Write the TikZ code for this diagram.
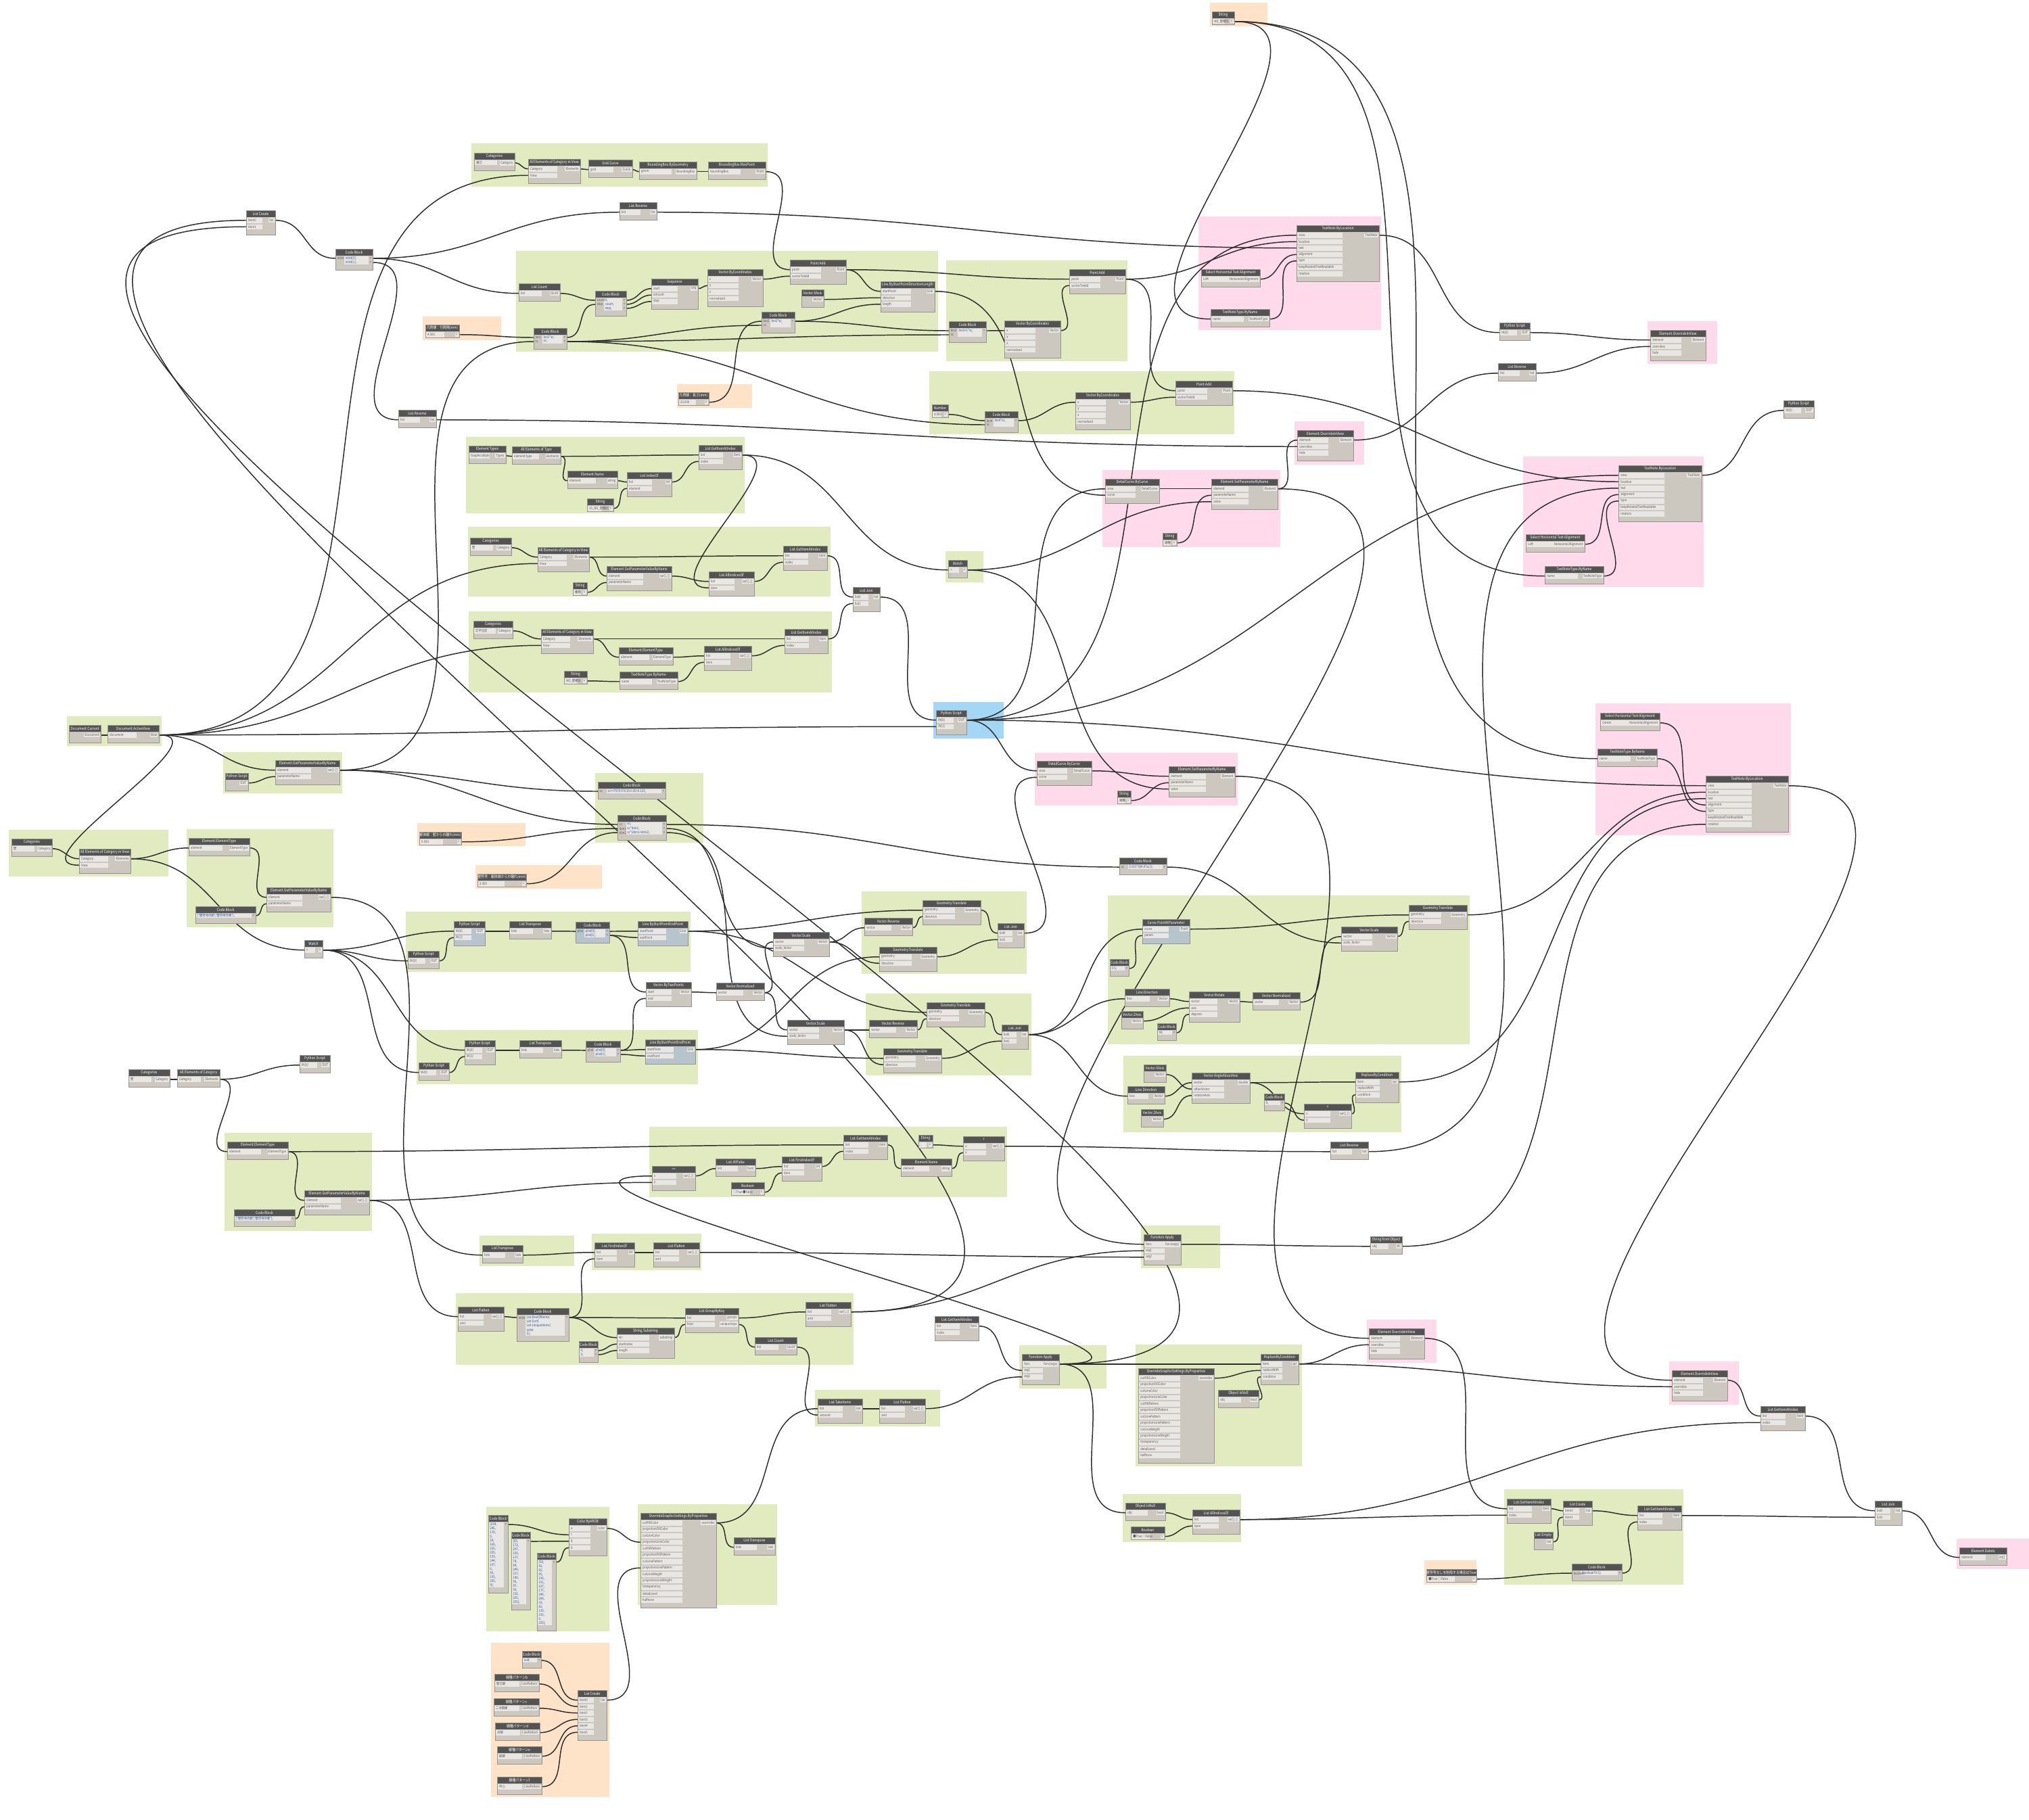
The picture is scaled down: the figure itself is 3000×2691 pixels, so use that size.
\documentclass[tikz,border=0pt]{standalone}
\usepackage{fontspec}
\setmainfont{Noto Sans CJK JP}[FakeStretch=0.84]
\usetikzlibrary{calc}

\definecolor{grpgreen}{RGB}{226,234,192}
\definecolor{grppink}{RGB}{255,218,235}
\definecolor{grppeach}{RGB}{255,227,201}
\definecolor{grpblue}{RGB}{164,214,245}
\definecolor{hdcol}{RGB}{83,83,83}
\definecolor{bodycol}{RGB}{204,200,191}
\definecolor{bodyblue}{RGB}{184,196,204}
\definecolor{rowcol}{RGB}{233,231,227}
\definecolor{edgecol}{RGB}{150,148,143}
\definecolor{txtgray}{RGB}{85,85,85}
\definecolor{codecol}{RGB}{40,80,160}
\definecolor{wirecol}{RGB}{45,45,45}

\pgfdeclarelayer{grp}
\pgfdeclarelayer{wir}
\pgfsetlayers{grp,wir,main}

\tikzset{
  ttl/.style={text=white, font=\fontsize{1.65}{1.9}\selectfont, inner sep=0pt},
  plbl/.style={text=txtgray, font=\fontsize{1.45}{1.7}\selectfont, inner sep=0.35pt},
  code/.style={text=codecol, font=\fontsize{1.45}{1.7}\selectfont, inner sep=0.2pt},
  nedge/.style={draw=edgecol, line width=0.15pt},
  conn/.style={draw=wirecol, line width=0.42pt},
  gG/.style={fill=grpgreen}, gP/.style={fill=grppink},
  gO/.style={fill=grppeach}, gB/.style={fill=grpblue}
}

% [body style]{name}{x}{y}{width}{rows}{title}{inputs}{outputs}
\newcommand{\dnode}[9][]{%
  \fill[bodycol,#1] (#3,#4) rectangle ++(#5,{#6*9.5+17});
  \fill[hdcol] (#3,#4) rectangle ++(#5,10);
  \draw[nedge] (#3,#4) rectangle ++(#5,{#6*9.5+17});
  \node[ttl] (#2) at ({#3+#5/2},{#4+5}) {#7};
  \def\dnin{#8}%
  \ifx\dnin\empty\else
  \foreach \p [count=\i] in {#8}{%
    \fill[rowcol] ({#3+0.8},{#4+10+(\i-1)*9.5+1}) rectangle ++({#5*0.55},7.5);
    \coordinate (#2-i\i) at (#3,{#4+10+(\i-0.5)*9.5});
    \node[plbl,anchor=west] at ({#3+1.3},{#4+10+(\i-0.5)*9.5}) {\p};}%
  \fi
  \foreach \p [count=\i] in {#9}{%
    \node[plbl,fill=rowcol,anchor=east] at ({#3+#5-0.8},{#4+10+(\i-0.5)*9.5}) {\p};
    \coordinate (#2-o\i) at ({#3+#5},{#4+10+(\i-0.5)*9.5});}%
}
% [body style]{name}{x}{y}{width}{lines}{inputs}{code}{outputs}
\newcommand{\cbnode}[9][]{%
  \def\cbin{#7}%
  \ifx\cbin\empty\def\cbx{1}\else\def\cbx{13}\fi
  \fill[bodycol,#1] (#3,#4) rectangle ++(#5,{#6*6+19});
  \fill[rowcol] ({#3+\cbx},{#4+11}) rectangle ({#3+#5-6},{#4+11+#6*6});
  \fill[hdcol] (#3,#4) rectangle ++(#5,10);
  \draw[nedge] (#3,#4) rectangle ++(#5,{#6*6+19});
  \node[ttl] (#2) at ({#3+#5/2},{#4+5}) {Code Block};
  \ifx\cbin\empty\else
  \foreach \p [count=\i] in {#7}{%
    \coordinate (#2-i\i) at (#3,{#4+11+(\i-0.5)*6});
    \node[plbl,anchor=west] at ({#3+0.8},{#4+11+(\i-0.5)*6}) {\p};}%
  \fi
  \foreach \codeln [count=\i] in {#8}{%
    \node[code,anchor=west] at ({#3+\cbx+0.3},{#4+11+(\i-0.5)*6}) {\codeln};}%
  \foreach \i in {1,...,#9}{%
    \node[plbl] at ({#3+#5-3},{#4+11+(\i-0.5)*6}) {>};
    \coordinate (#2-o\i) at ({#3+#5},{#4+11+(\i-0.5)*6});}%
}
\newcommand{\dwire}[2]{\draw[conn] let \p1=(#1), \p2=(#2),
  \n1={0.45*veclen((\x2-\x1)/10,(\y2-\y1)/10)*10} in
  (\p1) .. controls +({\n1*1pt},0pt) and +({-\n1*1pt},0pt) .. (\p2);}
\newcommand{\dgroup}[5]{\begin{pgfonlayer}{grp}\fill[#1] (#2,#3) rectangle (#4,#5);\end{pgfonlayer}}

\begin{document}
\begin{tikzpicture}[x=0.01cm, y=-0.01cm]
\useasboundingbox (0,0) rectangle (3000,2691);
\begin{pgfonlayer}{grp}\fill[white] (0,0) rectangle (3000,2691);\end{pgfonlayer}

\dgroup{gG}{697}{212}{1135}{276}
\dgroup{gG}{763}{371}{1387}{520}
\dgroup{gG}{689}{646}{1101}{759}
\dgroup{gG}{692}{779}{1228}{882}
\dgroup{gG}{693}{904}{1230}{1024}
\dgroup{gG}{1399}{385}{1667}{534}
\dgroup{gG}{1374}{549}{1825}{642}
\dgroup{gG}{1398}{815}{1454}{861}
\dgroup{gG}{99}{1059}{239}{1103}
\dgroup{gG}{330}{1112}{506}{1173}
\dgroup{gG}{13}{1227}{249}{1296}
\dgroup{gG}{276}{1226}{493}{1371}
\dgroup{gG}{880}{1143}{1040}{1246}
\dgroup{gG}{600}{1348}{1021}{1437}
\dgroup{gG}{616}{1523}{1032}{1603}
\dgroup{gG}{1274}{1318}{1518}{1440}
\dgroup{gG}{1280}{1469}{1525}{1590}
\dgroup{gG}{1638}{1324}{2173}{1544}
\dgroup{gG}{1661}{1561}{2072}{1674}
\dgroup{gG}{332}{1675}{550}{1820}
\dgroup{gG}{960}{1666}{1489}{1770}
\dgroup{gG}{709}{1827}{849}{1872}
\dgroup{gG}{875}{1824}{1037}{1878}
\dgroup{gG}{1687}{1812}{1804}{1875}
\dgroup{gG}{674}{1912}{1262}{2018}
\dgroup{gG}{1205}{2055}{1390}{2109}
\dgroup{gG}{1507}{1989}{1636}{2053}
\dgroup{gG}{1679}{1988}{1925}{2168}
\dgroup{gG}{1660}{2209}{1835}{2280}
\dgroup{gG}{2224}{2202}{2489}{2343}
\dgroup{gG}{719}{2228}{901}{2412}
\dgroup{gG}{943}{2224}{1149}{2373}
\dgroup{gP}{1772}{320}{2042}{488}
\dgroup{gP}{1914}{623}{2017}{687}
\dgroup{gP}{1630}{695}{1893}{809}
\dgroup{gP}{2436}{475}{2539}{538}
\dgroup{gP}{2252}{675}{2519}{868}
\dgroup{gP}{2359}{1040}{2648}{1235}
\dgroup{gP}{1530}{1113}{1830}{1191}
\dgroup{gP}{2021}{1951}{2124}{2015}
\dgroup{gP}{2468}{2013}{2571}{2077}
\dgroup{gP}{2893}{2275}{3000}{2320}
\dgroup{gO}{1789}{4}{1874}{39}
\dgroup{gO}{625}{468}{741}{503}
\dgroup{gO}{1001}{568}{1112}{603}
\dgroup{gO}{617}{1217}{777}{1251}
\dgroup{gO}{703}{1279}{890}{1314}
\dgroup{gO}{2106}{2307}{2183}{2343}
\dgroup{gO}{726}{2429}{901}{2657}
\dgroup{gB}{1380}{1038}{1484}{1092}

\dnode{lc1}{364}{311}{43}{2}{List Create}{item0,item1}{list}
\cbnode{cb1}{496}{368}{55}{2}{inlist}{{inlist[0];},{inlist[1];}}{2}
\dnode{lr1}{589}{606}{56}{1}{List.Reverse}{list}{list}
\dnode{num1}{629}{480}{50}{0.25}{凡例線：行間隔(mm)}{4.500}{>}
\dnode{cat1}{701}{226}{60}{1}{Categories}{通芯}{Category}
\dnode{ae1}{781}{235}{77}{2}{All Elements of Category in View}{Category,View}{Elements}
\dnode{gc}{870}{236}{65}{1}{Grid.Curve}{grid}{Curve}
\dnode{bbg}{945}{239}{85}{1}{BoundingBox.ByGeometry}{geom}{BoundingBox}
\dnode{bbm}{1047}{239}{85}{1}{BoundingBox.MaxPoint}{boundingBox}{Point}
\dnode{lr2}{916}{299}{55}{1}{List.Reverse}{list}{list}
\dnode{lcount1}{767}{419}{61}{1}{List.Count}{list}{count}
\cbnode{cb2}{880}{430}{46}{3}{count,step}{{0;},{count;},{step;}}{3}
\dnode{seq}{963}{412}{69}{3}{Sequence}{start,amount,step}{seq}
\dnode{vbc1}{1046}{398}{82}{4}{Vector.ByCoordinates}{x,y,z,normalized}{Vector}
\dnode{pa1}{1168}{384}{83}{2}{Point.Add}{point,vectorToAdd}{Point}
\dnode{vx1}{1185}{428}{33}{1}{Vector.XAxis}{}{Vector}
\dnode{lsdl}{1302}{416}{80}{3}{Line.ByStartPointDirectionLength}{startPoint,direction,length}{Line}
\cbnode{cb3}{1126}{461}{49}{2}{len2,sc}{{len2*sc;}}{1}
\cbnode{cb4}{789}{485}{49}{2}{len1,sc}{{len1*sc;},{sc;}}{2}
\dnode{num2}{1003}{580}{45}{0.25}{凡例線：長さ(mm)}{20.000}{>}
\dnode{et1}{693}{659}{55}{1}{Element Types}{GraphicsStyle}{Types}
\dnode{aet}{757}{660}{72}{1}{All Elements of Type}{element type}{elements}
\dnode{en1}{839}{696}{74}{1}{Element.Name}{element}{string}
\dnode{lio}{927}{698}{66}{2}{List.IndexOf}{list,element}{int}
\dnode{str1}{868}{737}{39}{0.25}{String}{10\_NO\_壁種別}{>}
\dnode{gia1}{1033}{658}{64}{2}{List.GetItemAtIndex}{list,index}{item}
\dnode{cat2}{695}{795}{61}{1}{Categories}{壁}{Category}
\dnode{ae2}{795}{809}{76}{2}{All Elements of Category in View}{Category,View}{Elements}
\dnode{gpv1}{897}{837}{96}{2}{Element.GetParameterValueByName}{element,parameterName}{var[]..[]}
\dnode{str2}{847}{861}{21}{0.25}{String}{種類}{>}
\dnode{laio1}{1048}{845}{67}{2}{List.AllIndicesOf}{list,item}{var[]..[]}
\dnode{gia2}{1158}{807}{65}{2}{List.GetItemAtIndex}{list,index}{item}
\dnode{lj0}{1261}{868}{40}{2}{List.Join}{list0,list1}{list}
\dnode{cat5}{700}{918}{58}{1}{Categories}{文字注記}{Category}
\dnode{ae4}{800}{930}{77}{2}{All Elements of Category in View}{Category,View}{Elements}
\dnode{ee2}{915}{957}{80}{1}{Element.ElementType}{element}{ElementType}
\dnode{laio3}{1041}{955}{70}{2}{List.AllIndicesOf}{list,item}{var[]..[]}
\dnode{gia8}{1160}{930}{64}{2}{List.GetItemAtIndex}{list,index}{item}
\dnode{str6}{834}{992}{34}{0.25}{String}{NO\_壁種別}{>}
\dnode{tnt4}{916}{993}{86}{1}{TextNoteType.ByName}{name}{TextNoteType}

\dnode{str0}{1792}{17}{33}{0.25}{String}{NO\_壁種別}{>}
\dnode{pa2}{1581}{398}{83}{2}{Point.Add}{point,vectorToAdd}{Point}
\cbnode{cb5}{1403}{475}{55}{2}{len3,sc}{{len3+1*sc;}}{1}
\dnode{vbc2}{1485}{474}{83}{4}{Vector.ByCoordinates}{x,y,z,normalized}{Vector}
\dnode{num3}{1378}{598}{24}{0.25}{Number}{8.500}{>}
\cbnode{cb6}{1456}{608}{49}{2}{len4,sc}{{len4*sc;}}{1}
\dnode{vbc3}{1590}{580}{81}{4}{Vector.ByCoordinates}{x,y,z,normalized}{Vector}
\dnode{pa3}{1738}{563}{84}{2}{Point.Add}{point,vectorToAdd}{Point}
\dnode{tn1}{1917}{333}{122}{7}{TextNote.ByLocation}{view,location,text,alignment,type,keepRotatedTextReadable,rotation}{TextNote}
\dnode{sha1}{1776}{398}{87}{1}{Select Horizontal Text Alignment}{Left}{Horizontal Alignment}
\dnode{tnt1}{1790}{457}{87}{1}{TextNoteType.ByName}{name}{TextNoteType}
\dnode{eov1}{1918}{636}{83}{3}{Element.OverrideInView}{element,overrides,hide}{Element}
\dnode{dcc}{1634}{708}{80}{2}{DetailCurve.ByCurve}{view,curve}{DetailCurve}
\dnode{espn1}{1791}{708}{98}{3}{Element.SetParameterByName}{element,parameterName,value}{Element}
\dnode{str3}{1719}{788}{21}{0.25}{String}{線種}{>}
\dnode{w1}{1402}{828}{28}{1}{Watch}{>}{>}
\dnode{ps1}{2217}{477}{45}{1}{Python Script}{IN[0]}{OUT}
\dnode{lr3}{2215}{537}{56}{1}{List.Reverse}{list}{list}
\dnode{eov2}{2440}{488}{82}{3}{Element.OverrideInView}{element,overrides,hide}{Element}
\dnode{ps2}{2637}{592}{45}{1}{Python Script}{IN[0]}{OUT}
\dnode{tn2}{2393}{688}{123}{7}{TextNote.ByLocation}{view,location,text,alignment,type,keepRotatedTextReadable,rotation}{TextNote}
\dnode{sha2}{2256}{790}{87}{1}{Select Horizontal Text Alignment}{Left}{Horizontal Alignment}
\dnode{tnt2}{2284}{837}{87}{1}{TextNoteType.ByName}{name}{TextNoteType}
\dnode{sha3}{2366}{1054}{88}{1}{Select Horizontal Text Alignment}{Center}{Horizontal Alignment}
\dnode{tnt3}{2362}{1107}{88}{1}{TextNoteType.ByName}{name}{TextNoteType}
\dnode{tn3}{2522}{1147}{122}{7}{TextNote.ByLocation}{view,location,text,alignment,type,keepRotatedTextReadable,rotation}{TextNote}
\dnode{ps9}{1384}{1050}{45}{2}{Python Script}{IN[0],IN[1]}{OUT}
\dnode{dcc2}{1533}{1125}{81}{2}{DetailCurve.ByCurve}{view,curve}{DetailCurve}
\dnode{espn2}{1728}{1133}{98}{3}{Element.SetParameterByName}{element,parameterName,value}{Element}
\dnode{str5}{1652}{1169}{20}{0.25}{String}{線種}{>}
\cbnode{cb15}{1655}{1268}{70}{1}{sc}{{0.015*304.8*sc/2;}}{1}
\dnode[fill=bodyblue]{cpap}{1689}{1359}{70}{2}{Curve.PointAtParameter}{curve,param}{Point}
\cbnode{cb16}{1641}{1418}{28}{1}{}{{0.5;}}{1}
\dnode{ld}{1663}{1462}{66}{1}{Line.Direction}{line}{Vector}
\dnode{vz}{1658}{1495}{32}{1}{Vector.ZAxis}{}{Vector}
\cbnode{cb17}{1711}{1513}{28}{1}{}{{90;}}{1}
\dnode{vrot}{1758}{1466}{75}{3}{Vector.Rotate}{vector,axis,degrees}{Vector}
\dnode{vn2}{1852}{1467}{70}{1}{Vector.Normalized}{vector}{Vector}
\dnode{vs3}{1983}{1370}{83}{2}{Vector.Scale}{vector,scale\_factor}{Vector}
\dnode{gt5}{2083}{1338}{86}{2}{Geometry.Translate}{geometry,direction}{Geometry}
\dnode{vx2}{1691}{1574}{33}{1}{Vector.XAxis}{}{Vector}
\dnode{ld2}{1667}{1606}{55}{1}{Line.Direction}{line}{Vector}
\dnode{vz2}{1687}{1640}{33}{1}{Vector.ZAxis}{}{Vector}
\dnode{vaaa}{1762}{1586}{86}{3}{Vector.AngleAboutAxis}{vector,otherVector,rotationAxis}{double}
\cbnode{cb20}{1869}{1617}{30}{1}{}{{0;}}{1}
\dnode{cmp}{1928}{1632}{70}{2}{<}{x,y}{var[]..[]}
\dnode{rbc2}{2004}{1585}{64}{3}{ReplaceByCondition}{item,replaceWith,condition}{var}

\dnode{dc}{102}{1072}{47}{1}{Document.Current}{}{Document}
\dnode{dav}{159}{1072}{76}{1}{Document.ActiveView}{document}{View}
\dnode{ps3}{333}{1143}{34}{1}{Python Script}{}{OUT}
\dnode{gpv2}{407}{1124}{95}{2}{Element.GetParameterValueByName}{element,parameterName}{var[]..[]}
\dnode{cat3}{17}{1240}{60}{1}{Categories}{壁}{Category}
\dnode{ae3}{117}{1255}{76}{2}{All Elements of Category in View}{Category,View}{Elements}
\dnode{ee1}{279}{1239}{90}{1}{Element.ElementType}{element}{ElementType}
\dnode{gpv3}{394}{1312}{95}{2}{Element.GetParameterValueByName}{element,parameterName}{var[]..[]}
\cbnode{cb7}{289}{1340}{89}{1}{}{{["壁符号内側","壁符号外側"];}}{1}
\dnode{w2}{450}{1390}{27}{1}{Watch}{>}{>}
\dnode{num4}{620}{1230}{62}{0.25}{躯体線：壁からの離れ(mm)}{0.500}{>}
\dnode{num5}{706}{1292}{72}{0.25}{壁符号：躯体線からの離れ(mm)}{3.000}{>}
\cbnode{cb10}{884}{1156}{100}{1}{sc}{{sc<=7570.5?0.25:0.25+0.125;}}{1}
\cbnode{cb11}{913}{1205}{72}{3}{sc,dim1,dim2}{{sc;},{sc*dim1;},{sc*(dim1+dim2);}}{3}
\dnode[fill=bodyblue]{ps4}{671}{1362}{46}{2}{Python Script}{IN[0],IN[1]}{OUT}
\dnode{ps5}{603}{1406}{46}{1}{Python Script}{IN[0]}{OUT}
\dnode{lt1}{753}{1362}{62}{1}{List.Transpose}{lists}{lists}
\cbnode[fill=bodyblue]{cb8}{851}{1363}{50}{2}{plist}{{plist[0];},{plist[1];}}{2}
\dnode[fill=bodyblue]{lsep1}{943}{1362}{74}{2}{Line.ByStartPointEndPoint}{startPoint,endPoint}{Line}
\dnode{ps6}{687}{1538}{45}{2}{Python Script}{IN[0],IN[1]}{OUT}
\dnode{ps7}{619}{1571}{45}{1}{Python Script}{IN[0]}{OUT}
\dnode{lt2}{768}{1538}{62}{1}{List.Transpose}{lists}{lists}
\cbnode{cb9}{866}{1539}{51}{2}{plist}{{plist[0];},{plist[1];}}{2}
\dnode[fill=bodyblue]{lsep2}{954}{1537}{74}{2}{Line.ByStartPointEndPoint}{startPoint,endPoint}{Line}
\dnode{vbtp}{955}{1452}{67}{2}{Vector.ByTwoPoints}{start,end}{Vector}
\dnode{vn1}{1059}{1453}{71}{1}{Vector.Normalized}{vector}{Vector}
\dnode{vs1}{1143}{1378}{83}{2}{Vector.Scale}{vector,scale\_factor}{Vector}
\dnode{vs2}{1164}{1508}{84}{2}{Vector.Scale}{vector,scale\_factor}{Vector}
\dnode{gt1}{1364}{1331}{86}{2}{Geometry.Translate}{geometry,direction}{Geometry}
\dnode{vr1}{1278}{1357}{71}{1}{Vector.Reverse}{vector}{Vector}
\dnode{gt2}{1300}{1400}{85}{2}{Geometry.Translate}{geometry,direction}{Geometry}
\dnode{lj1}{1475}{1365}{39}{2}{List.Join}{list0,list1}{list}
\dnode{gt3}{1370}{1482}{86}{2}{Geometry.Translate}{geometry,direction}{Geometry}
\dnode{vr2}{1285}{1508}{71}{1}{Vector.Reverse}{vector}{Vector}
\dnode{gt4}{1306}{1550}{86}{2}{Geometry.Translate}{geometry,direction}{Geometry}
\dnode{lj2}{1481}{1515}{39}{2}{List.Join}{list0,list1}{list}
\dnode{cat4}{190}{1581}{61}{1}{Categories}{壁}{Category}
\dnode{aec}{262}{1581}{63}{1}{All Elements of Category}{Category}{Elements}
\dnode{ps8}{443}{1560}{45}{1}{Python Script}{IN[0]}{OUT}
\dnode{ee3}{336}{1688}{90}{1}{Element.ElementType}{element}{ElementType}
\dnode{gpv4}{450}{1760}{96}{2}{Element.GetParameterValueByName}{element,parameterName}{var[]..[]}
\cbnode{cb18}{346}{1788}{90}{1}{}{{["壁符号内側","壁符号外側"];}}{1}
\dnode{eqn}{964}{1724}{64}{2}{==}{x,y}{var[]..[]}
\dnode{laf}{1058}{1713}{59}{1}{List.AllFalse}{list}{bool}
\dnode{lfio1}{1156}{1710}{59}{2}{List.FirstIndexOf}{list,item}{int}
\dnode{bool1}{1081}{1748}{49}{0.25}{Boolean}{○True ●False}{>}
\dnode{gia3}{1247}{1678}{65}{2}{List.GetItemAtIndex}{list,index}{item}
\dnode{str4}{1358}{1678}{21}{0.25}{String}{:}{>}
\dnode{en2}{1332}{1713}{75}{1}{Element.Name}{element}{string}
\dnode{plus}{1424}{1680}{61}{2}{+}{x,y}{var[]..[]}
\dnode{lr4}{1967}{1688}{56}{1}{List.Reverse}{list}{list}
\dnode{fa1}{1691}{1825}{55}{3}{Function.Apply}{func,arg1,arg2}{func(args)}
\dnode{sfo}{2026}{1828}{47}{1}{String from Object}{obj}{str}
\dnode{lt3}{713}{1841}{60}{1}{List.Transpose}{lists}{lists}
\dnode{lfio2}{879}{1837}{59}{2}{List.FirstIndexOf}{list,item}{int}
\dnode{lf3}{966}{1837}{68}{2}{List.Flatten}{list,amt}{var[]..[]}
\dnode{lf1}{677}{1932}{68}{2}{List.Flatten}{list,amt}{var[]..[]}
\cbnode{cb12}{764}{1934}{77}{5}{inlist}{{List.RestOfItems(},{List.Sort(},{List.UniqueItems(},{inlist},{)));}}{1}
\cbnode{cb13}{856}{1983}{28}{2}{}{{0;},{3;}}{2}
\dnode{ss}{912}{1963}{85}{3}{String.Substring}{str,startIndex,length}{substring}
\dnode{lgbk}{1013}{1934}{79}{2}{List.GroupByKey}{list,keys}{groups,unique keys}
\dnode{lf2}{1191}{1925}{67}{2}{List.Flatten}{list,amt}{var[]..[]}
\dnode{lcount2}{1116}{1977}{62}{1}{List.Count}{list}{count}
\dnode{gia4}{1382}{1946}{65}{2}{List.GetItemAtIndex}{list,index}{item}
\dnode{lti}{1209}{2068}{66}{2}{List.TakeItems}{list,amount}{list}
\dnode{lf4}{1300}{2068}{68}{2}{List.Flatten}{list,amt}{var[]..[]}
\dnode{fa2}{1511}{2002}{55}{3}{Function.Apply}{func,arg1,arg2}{func(args)}
\dnode{ogs1}{1683}{2023}{112}{13}{OverrideGraphicSettings.ByProperties}{cutFillColor,projectionFillColor,cutLineColor,projectionLineColor,cutFillPattern,projectionFillPattern,cutLinePattern,projectionLinePattern,cutLineWeight,projectionLineWeight,transparency,detailLevel,halftone}{overrides}
\dnode{rbc}{1864}{2002}{56}{3}{ReplaceByCondition}{item,replaceWith,condition}{var}
\dnode{oin1}{1801}{2055}{60}{1}{Object.IsNull}{obj}{bool}
\dnode{eov3}{2024}{1964}{82}{3}{Element.OverrideInView}{element,overrides,hide}{Element}
\dnode{eov4}{2472}{2026}{82}{3}{Element.OverrideInView}{element,overrides,hide}{Element}
\dnode{gia5}{2603}{2079}{66}{2}{List.GetItemAtIndex}{list,index}{item}
\dnode{oin2}{1664}{2222}{59}{1}{Object.IsNull}{obj}{bool}
\dnode{bool2}{1672}{2257}{50}{0.25}{Boolean}{●True ○False}{>}
\dnode{laio2}{1763}{2232}{70}{2}{List.AllIndicesOf}{list,item}{var[]..[]}
\dnode{gia6}{2228}{2216}{65}{2}{List.GetItemAtIndex}{list,index}{item}
\dnode{lc2}{2311}{2219}{43}{2}{List Create}{item0,item1}{list}
\dnode{lem}{2268}{2265}{28}{1}{List.Empty}{}{list}
\dnode{gia7}{2421}{2226}{65}{2}{List.GetItemAtIndex}{list,index}{item}
\cbnode{cb14}{2324}{2312}{74}{1}{boolean}{{(boolean?0:1);}}{1}
\dnode{bool3}{2109}{2320}{74}{0.25}{壁符号なしを削除する場合はTrue}{●True ○False}{>}
\dnode{lj3}{2772}{2219}{40}{2}{List.Join}{list0,list1}{list}
\dnode{edel}{2897}{2288}{70}{1}{Element.Delete}{element}{int[]}
\cbnode{cbr}{722}{2240}{29}{16}{}{{[234,},{246,},{178,},{0,},{24,},{166,},{233,},{255,},{159,},{244,},{167,},{0,},{66,},{192,},{255,},{0];}}{1}
\cbnode{cbg}{756}{2265}{28}{16}{}{{[85,},{173,},{207,},{169,},{127,},{74,},{84,},{249,},{217,},{180,},{56,},{87,},{56,},{192,},{255,},{255];}}{1}
\cbnode{cbb}{794}{2296}{28}{16}{}{{[58,},{60,},{82,},{95,},{196,},{151,},{107,},{177,},{246,},{208,},{29,},{82,},{133,},{192,},{0,},{255];}}{1}
\dnode{cargb}{841}{2245}{56}{4}{Color.ByARGB}{a,r,g,b}{color}
\dnode{ogs2}{947}{2237}{112}{13}{OverrideGraphicSettings.ByProperties}{cutFillColor,projectionFillColor,cutLineColor,projectionLineColor,cutFillPattern,projectionFillPattern,cutLinePattern,projectionLinePattern,cutLineWeight,projectionLineWeight,transparency,detailLevel,halftone}{overrides}
\dnode{lt4}{1085}{2273}{61}{1}{List.Transpose}{lists}{lists}
\cbnode{cbn}{772}{2441}{28}{1}{}{{null;}}{1}
\dnode{lp1}{731}{2475}{66}{1}{線種パターンb}{壁芯線}{LinePattern}
\dnode{lp2}{730}{2511}{67}{1}{線種パターンc}{二点鎖線}{LinePattern}
\dnode{lp3}{732}{2547}{66}{1}{線種パターンd}{点線}{LinePattern}
\dnode{lp4}{735}{2582}{66}{1}{線種パターンe}{破線}{LinePattern}
\dnode{lp5}{735}{2627}{66}{1}{線種パターンf}{中心}{LinePattern}
\dnode{lc3}{854}{2499}{43}{6}{List Create}{item0,item1,item2,item3,item4,item5}{list}

\begin{pgfonlayer}{wir}
\dwire{lc1-o1}{cb1-i1}
\dwire{cb1-o1}{lr2-i1}
\dwire{cb1-o1}{lcount1-i1}
\dwire{cb1-o2}{lr1-i1}
\dwire{lf2-o1}{lc1-i1}
\dwire{fa2-o1}{lc1-i2}
\dwire{cat1-o1}{ae1-i1}
\dwire{dav-o1}{ae1-i2}
\dwire{ae1-o1}{gc-i1}
\dwire{gc-o1}{bbg-i1}
\dwire{bbg-o1}{bbm-i1}
\dwire{bbm-o1}{pa1-i1}
\dwire{lcount1-o1}{cb2-i1}
\dwire{cb4-o1}{cb2-i2}
\dwire{cb2-o1}{seq-i1}
\dwire{cb2-o2}{seq-i2}
\dwire{cb2-o3}{seq-i3}
\dwire{seq-o1}{vbc1-i2}
\dwire{vbc1-o1}{pa1-i2}
\dwire{pa1-o1}{lsdl-i1}
\dwire{pa1-o1}{pa2-i1}
\dwire{vx1-o1}{lsdl-i2}
\dwire{cb3-o1}{lsdl-i3}
\dwire{cb3-o1}{cb5-i1}
\dwire{num1-o1}{cb4-i1}
\dwire{num2-o1}{cb3-i1}
\dwire{cb4-o2}{cb3-i2}
\dwire{cb4-o2}{cb5-i2}
\dwire{cb4-o2}{cb6-i2}
\dwire{gpv2-o1}{cb4-i2}
\dwire{lsdl-o1}{dcc-i2}
\dwire{cb5-o1}{vbc2-i1}
\dwire{vbc2-o1}{pa2-i2}
\dwire{pa2-o1}{tn1-i2}
\dwire{pa2-o1}{pa3-i1}
\dwire{num3-o1}{cb6-i1}
\dwire{cb6-o1}{vbc3-i1}
\dwire{vbc3-o1}{pa3-i2}
\dwire{pa3-o1}{tn2-i2}
\dwire{lr2-o1}{tn1-i3}
\dwire{sha1-o1}{tn1-i4}
\dwire{tnt1-o1}{tn1-i5}
\dwire{str0-o1}{tnt1-i1}
\dwire{str0-o1}{tnt2-i1}
\dwire{str0-o1}{tnt3-i1}
\dwire{tn1-o1}{ps1-i1}
\dwire{ps1-o1}{eov2-i1}
\dwire{lr3-o1}{eov2-i2}
\dwire{eov1-o1}{lr3-i1}
\dwire{lr1-o1}{eov1-i2}
\dwire{espn1-o1}{eov1-i1}
\dwire{tn2-o1}{ps2-i1}
\dwire{sha2-o1}{tn2-i4}
\dwire{tnt2-o1}{tn2-i5}
\dwire{sha3-o1}{tn3-i4}
\dwire{tnt3-o1}{tn3-i5}
\dwire{ps9-o1}{tn1-i1}
\dwire{ps9-o1}{tn2-i1}
\dwire{ps9-o1}{tn3-i1}
\dwire{ps9-o1}{dcc-i1}
\dwire{ps9-o1}{dcc2-i1}
\dwire{lr4-o1}{tn2-i3}
\dwire{gt5-o1}{tn3-i2}
\dwire{rbc2-o1}{tn3-i3}
\dwire{sfo-o1}{tn3-i7}
\dwire{tn3-o1}{eov4-i1}
\dwire{et1-o1}{aet-i1}
\dwire{aet-o1}{en1-i1}
\dwire{aet-o1}{gia1-i1}
\dwire{en1-o1}{lio-i1}
\dwire{str1-o1}{lio-i2}
\dwire{lio-o1}{gia1-i2}
\dwire{gia1-o1}{laio1-i2}
\dwire{gia1-o1}{w1-i1}
\dwire{cat2-o1}{ae2-i1}
\dwire{dav-o1}{ae2-i2}
\dwire{ae2-o1}{gpv1-i1}
\dwire{ae2-o1}{gia2-i1}
\dwire{str2-o1}{gpv1-i2}
\dwire{gpv1-o1}{laio1-i1}
\dwire{laio1-o1}{gia2-i2}
\dwire{gia2-o1}{lj0-i1}
\dwire{cat5-o1}{ae4-i1}
\dwire{dav-o1}{ae4-i2}
\dwire{ae4-o1}{ee2-i1}
\dwire{ae4-o1}{gia8-i1}
\dwire{ee2-o1}{laio3-i1}
\dwire{str6-o1}{tnt4-i1}
\dwire{tnt4-o1}{laio3-i2}
\dwire{laio3-o1}{gia8-i2}
\dwire{gia8-o1}{lj0-i2}
\dwire{lj0-o1}{ps9-i1}
\dwire{dav-o1}{ps9-i2}
\dwire{dcc-o1}{espn1-i1}
\dwire{str3-o1}{espn1-i2}
\dwire{w1-o1}{espn1-i3}
\dwire{w1-o1}{espn2-i3}
\dwire{dcc2-o1}{espn2-i1}
\dwire{str5-o1}{espn2-i2}
\dwire{espn2-o1}{eov3-i1}
\dwire{espn1-o1}{fa1-i1}
\dwire{dc-o1}{dav-i1}
\dwire{dav-o1}{gpv2-i1}
\dwire{ps3-o1}{gpv2-i2}
\dwire{gpv2-o1}{cb10-i1}
\dwire{gpv2-o1}{cb11-i1}
\dwire{cat3-o1}{ae3-i1}
\dwire{dav-o1}{ae3-i2}
\dwire{ae3-o1}{ee1-i1}
\dwire{ae3-o1}{w2-i1}
\dwire{ee1-o1}{gpv3-i1}
\dwire{cb7-o1}{gpv3-i2}
\dwire{gpv3-o1}{lt3-i1}
\dwire{num4-o1}{cb11-i2}
\dwire{num5-o1}{cb11-i3}
\dwire{w2-o1}{ps4-i1}
\dwire{w2-o1}{ps5-i1}
\dwire{w2-o1}{ps6-i1}
\dwire{w2-o1}{ps7-i1}
\dwire{ps5-o1}{ps4-i2}
\dwire{ps7-o1}{ps6-i2}
\dwire{ps4-o1}{lt1-i1}
\dwire{lt1-o1}{cb8-i1}
\dwire{cb8-o1}{lsep1-i1}
\dwire{cb8-o2}{lsep1-i2}
\dwire{ps6-o1}{lt2-i1}
\dwire{lt2-o1}{cb9-i1}
\dwire{cb9-o1}{lsep2-i1}
\dwire{cb9-o2}{lsep2-i2}
\dwire{cb8-o2}{vbtp-i1}
\dwire{cb9-o1}{vbtp-i2}
\dwire{vbtp-o1}{vn1-i1}
\dwire{vn1-o1}{vs1-i1}
\dwire{vn1-o1}{vs2-i1}
\dwire{cb11-o2}{vs1-i2}
\dwire{cb11-o3}{vs2-i2}
\dwire{cb11-o1}{cb15-i1}
\dwire{vs1-o1}{vr1-i1}
\dwire{vs1-o1}{gt2-i2}
\dwire{vr1-o1}{gt1-i2}
\dwire{lsep1-o1}{gt1-i1}
\dwire{lsep1-o1}{gt3-i1}
\dwire{lsep2-o1}{gt2-i1}
\dwire{lsep2-o1}{gt4-i1}
\dwire{vs2-o1}{vr2-i1}
\dwire{vs2-o1}{gt4-i2}
\dwire{vr2-o1}{gt3-i2}
\dwire{gt1-o1}{lj1-i1}
\dwire{gt2-o1}{lj1-i2}
\dwire{gt3-o1}{lj2-i1}
\dwire{gt4-o1}{lj2-i2}
\dwire{lj1-o1}{dcc2-i2}
\dwire{lj2-o1}{cpap-i1}
\dwire{lj2-o1}{ld-i1}
\dwire{lj2-o1}{ld2-i1}
\dwire{cb16-o1}{cpap-i2}
\dwire{cpap-o1}{gt5-i1}
\dwire{ld-o1}{vrot-i1}
\dwire{vz-o1}{vrot-i2}
\dwire{cb17-o1}{vrot-i3}
\dwire{vrot-o1}{vn2-i1}
\dwire{vn2-o1}{vs3-i1}
\dwire{cb15-o1}{vs3-i2}
\dwire{vs3-o1}{gt5-i2}
\dwire{ld2-o1}{vaaa-i1}
\dwire{vx2-o1}{vaaa-i2}
\dwire{vz2-o1}{vaaa-i3}
\dwire{vaaa-o1}{rbc2-i1}
\dwire{vaaa-o1}{cmp-i1}
\dwire{cb20-o1}{cmp-i2}
\dwire{cmp-o1}{rbc2-i3}
\dwire{cat4-o1}{aec-i1}
\dwire{aec-o1}{ps8-i1}
\dwire{aec-o1}{ee3-i1}
\dwire{ee3-o1}{gpv4-i1}
\dwire{cb18-o1}{gpv4-i2}
\dwire{ee3-o1}{gia3-i1}
\dwire{gpv4-o1}{eqn-i2}
\dwire{gpv4-o1}{lf1-i1}
\dwire{fa2-o1}{eqn-i1}
\dwire{eqn-o1}{laf-i1}
\dwire{laf-o1}{lfio1-i1}
\dwire{bool1-o1}{lfio1-i2}
\dwire{lfio1-o1}{gia3-i2}
\dwire{gia3-o1}{en2-i1}
\dwire{str4-o1}{plus-i1}
\dwire{en2-o1}{plus-i2}
\dwire{plus-o1}{lr4-i1}
\dwire{lt3-o1}{lfio2-i1}
\dwire{cb12-o1}{lfio2-i2}
\dwire{lfio2-o1}{lf3-i1}
\dwire{lf1-o1}{cb12-i1}
\dwire{cb12-o1}{lgbk-i1}
\dwire{cb12-o1}{ss-i1}
\dwire{cb13-o1}{ss-i2}
\dwire{cb13-o2}{ss-i3}
\dwire{ss-o1}{lgbk-i2}
\dwire{lgbk-o1}{lf2-i1}
\dwire{lgbk-o2}{lcount2-i1}
\dwire{lcount2-o1}{lti-i2}
\dwire{lti-o1}{lf4-i1}
\dwire{lf2-o1}{fa1-i2}
\dwire{lf3-o1}{fa1-i3}
\dwire{fa1-o1}{sfo-i1}
\dwire{gia4-o1}{fa2-i2}
\dwire{lf4-o1}{fa2-i3}
\dwire{fa2-o1}{rbc-i1}
\dwire{fa2-o1}{oin2-i1}
\dwire{ogs1-o1}{rbc-i2}
\dwire{oin1-o1}{rbc-i3}
\dwire{rbc-o1}{eov3-i2}
\dwire{rbc-o1}{eov4-i2}
\dwire{eov3-o1}{gia6-i1}
\dwire{eov4-o1}{gia5-i1}
\dwire{oin2-o1}{laio2-i1}
\dwire{bool2-o1}{laio2-i2}
\dwire{laio2-o1}{gia6-i2}
\dwire{laio2-o1}{gia5-i2}
\dwire{gia6-o1}{lc2-i1}
\dwire{lem-o1}{lc2-i2}
\dwire{lc2-o1}{gia7-i1}
\dwire{bool3-o1}{cb14-i1}
\dwire{cb14-o1}{gia7-i2}
\dwire{gia5-o1}{lj3-i1}
\dwire{gia7-o1}{lj3-i2}
\dwire{lj3-o1}{edel-i1}
\dwire{cbr-o1}{cargb-i2}
\dwire{cbg-o1}{cargb-i3}
\dwire{cbb-o1}{cargb-i4}
\dwire{cargb-o1}{ogs2-i4}
\dwire{lc3-o1}{ogs2-i8}
\dwire{ogs2-o1}{lt4-i1}
\dwire{ogs2-o1}{lti-i1}
\dwire{cbn-o1}{lc3-i1}
\dwire{lp1-o1}{lc3-i2}
\dwire{lp2-o1}{lc3-i3}
\dwire{lp3-o1}{lc3-i4}
\dwire{lp4-o1}{lc3-i5}
\dwire{lp5-o1}{lc3-i6}
\end{pgfonlayer}
\end{tikzpicture}
\end{document}
